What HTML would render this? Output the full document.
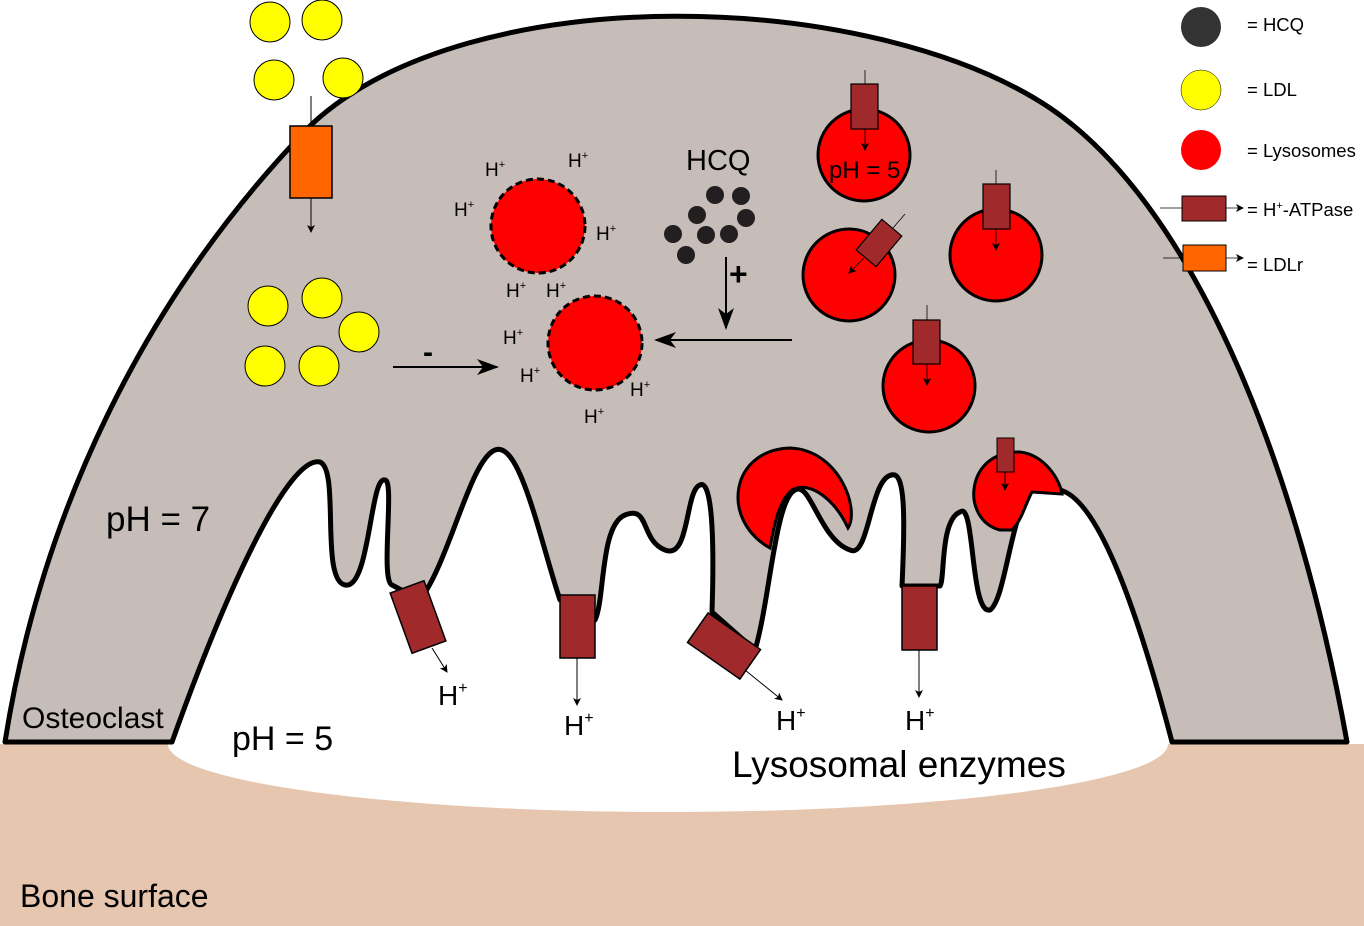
<!DOCTYPE html>
<html><head><meta charset="utf-8"><style>
html,body{margin:0;padding:0;background:#fff;}
svg{display:block;font-family:"Liberation Sans",sans-serif;}
</style></head><body>
<svg width="1364" height="926" viewBox="0 0 1364 926" xmlns="http://www.w3.org/2000/svg">
<defs>
<marker id="ah" markerWidth="8" markerHeight="8" refX="7" refY="4" orient="auto" markerUnits="userSpaceOnUse"><path d="M0,0 L8,4 L0,8 L2,4z" fill="#000"/></marker>
<marker id="ahb" markerWidth="22" markerHeight="16" refX="20" refY="8" orient="auto" markerUnits="userSpaceOnUse"><path d="M0,0 L22,8 L0,16 L6,8z" fill="#000"/></marker>
</defs>
<rect x="0" y="744" width="1364" height="182" fill="#e6c6ae"/>
<ellipse cx="668" cy="744" rx="500" ry="68" fill="#fff"/>
<path d="M5,742 C40,520 140,300 312,124 C470,-22 870,-12 1050,108 C1200,210 1300,480 1347,742 L1172,742
C1140,620 1100,500 1060,490 L1030,490 C1010,520 1005,600 990,610 C970,615 975,500 960,512 C940,520 945,580 940,586
L937,586 L902,586 C905,520 905,480 895,475 C870,470 870,560 850,550 C820,540 810,480 795,490 C775,500 770,600 755,650
L712,612 C715,520 710,480 700,485 C685,490 690,560 665,550 C640,540 650,505 625,515 C600,525 605,600 595,620 L560,600
C540,540 520,440 495,450 C470,460 450,560 420,600 L392,585 C380,580 395,480 385,480 C370,475 370,590 345,585 C320,580 340,470 320,462 C290,455 230,580 172,742 Z"
fill="#c7bdb8" stroke="#000" stroke-width="5" stroke-linejoin="round"/>
<path d="M770,548 C720,520 730,450 790,448 C840,450 860,510 848,528 C835,500 810,480 792,490 C780,500 775,520 770,548Z" fill="#f00" stroke="#000" stroke-width="3"/>
<path d="M1000,530 C960,520 965,450 1020,452 C1045,455 1060,480 1062,494 L1032,492 C1025,505 1022,520 1012,530Z" fill="#f00" stroke="#000" stroke-width="3"/>
<rect x="997" y="438" width="17" height="34" fill="#a0292b" stroke="#000" stroke-width="1"/>
<line x1="1005" y1="472" x2="1005" y2="490" stroke="#000" marker-end="url(#ah)"/>
<g fill="#a0292b" stroke="#000" stroke-width="1.5">
<rect x="-18" y="-32" width="36" height="64" transform="translate(418,617) rotate(-20)"/>
<rect x="560" y="595" width="35" height="63" />
<rect x="-18" y="-32" width="36" height="64" transform="translate(724,646) rotate(-55)"/>
<rect x="902" y="586" width="35" height="64" />
</g>
<g stroke="#000" stroke-width="1" marker-end="url(#ah)">
<line x1="432" y1="648" x2="447" y2="672"/>
<line x1="577" y1="658" x2="577" y2="705"/>
<line x1="745" y1="670" x2="782" y2="700"/>
<line x1="919" y1="650" x2="919" y2="697"/>
</g>
<g font-size="28" fill="#000">
<text x="438" y="705">H<tspan font-size="16" dy="-12">+</tspan></text>
<text x="564" y="735">H<tspan font-size="16" dy="-12">+</tspan></text>
<text x="776" y="730">H<tspan font-size="16" dy="-12">+</tspan></text>
<text x="905" y="730">H<tspan font-size="16" dy="-12">+</tspan></text>
</g>
<text x="106" y="531" font-size="35">pH = 7</text>
<text x="232" y="750" font-size="34">pH = 5</text>
<text x="22" y="728" font-size="30">Osteoclast</text>
<text x="732" y="777" font-size="37">Lysosomal enzymes</text>
<text x="20" y="907" font-size="32">Bone surface</text>
<g fill="#ff0" stroke="#000" stroke-width="1">
<circle cx="270" cy="22" r="20"/><circle cx="322" cy="20" r="20"/><circle cx="274" cy="80" r="20"/><circle cx="343" cy="78" r="20"/>
<circle cx="268" cy="306" r="20"/><circle cx="322" cy="298" r="20"/><circle cx="359" cy="332" r="20"/><circle cx="265" cy="366" r="20"/><circle cx="319" cy="366" r="20"/>
</g>
<line x1="311" y1="96" x2="311" y2="126" stroke="#000"/>
<rect x="290" y="126" width="42" height="72" fill="#f60" stroke="#000" stroke-width="1.5"/>
<line x1="311" y1="198" x2="311" y2="232" stroke="#000" marker-end="url(#ah)"/>
<line x1="393" y1="367" x2="497" y2="367" stroke="#000" stroke-width="2" marker-end="url(#ahb)"/>
<text x="423" y="362" font-size="30" font-weight="bold">-</text>
<circle cx="538" cy="226" r="47" fill="#f00" stroke="#000" stroke-width="3" stroke-dasharray="7,4"/>
<circle cx="595" cy="343" r="47" fill="#f00" stroke="#000" stroke-width="3" stroke-dasharray="7,4"/>
<g font-size="19">
<text x="485" y="176">H<tspan font-size="11" dy="-8">+</tspan></text>
<text x="568" y="167">H<tspan font-size="11" dy="-8">+</tspan></text>
<text x="454" y="216">H<tspan font-size="11" dy="-8">+</tspan></text>
<text x="596" y="240">H<tspan font-size="11" dy="-8">+</tspan></text>
<text x="506" y="297">H<tspan font-size="11" dy="-8">+</tspan></text>
<text x="546" y="297">H<tspan font-size="11" dy="-8">+</tspan></text>
<text x="503" y="344">H<tspan font-size="11" dy="-8">+</tspan></text>
<text x="520" y="382">H<tspan font-size="11" dy="-8">+</tspan></text>
<text x="630" y="396">H<tspan font-size="11" dy="-8">+</tspan></text>
<text x="584" y="423">H<tspan font-size="11" dy="-8">+</tspan></text>
</g>
<text x="686" y="170" font-size="29">HCQ</text>
<g fill="#231f20">
<circle cx="715" cy="195" r="9"/><circle cx="741" cy="196" r="9"/><circle cx="697" cy="215" r="9"/><circle cx="746" cy="218" r="9"/>
<circle cx="673" cy="234" r="9"/><circle cx="706" cy="235" r="9"/><circle cx="729" cy="234" r="9"/><circle cx="686" cy="255" r="9"/>
</g>
<line x1="726" y1="257" x2="726" y2="328" stroke="#000" stroke-width="2" marker-end="url(#ahb)"/>
<text x="729" y="285" font-size="32" font-weight="bold">+</text>
<line x1="792" y1="340" x2="656" y2="340" stroke="#000" stroke-width="2" marker-end="url(#ahb)"/>
<g fill="#f00" stroke="#000" stroke-width="3">
<circle cx="864" cy="155" r="46"/><circle cx="849" cy="275" r="46"/><circle cx="996" cy="255" r="46"/><circle cx="929" cy="386" r="46"/>
</g>
<text x="829" y="178" font-size="24">pH = 5</text>
<g fill="#a0292b" stroke="#000" stroke-width="1.2">
<rect x="851" y="84" width="27" height="45"/>
<rect x="-13" y="-20" width="26" height="40" transform="translate(879,243) rotate(40)"/>
<rect x="983" y="184" width="27" height="45"/>
<rect x="913" y="320" width="27" height="44"/>
</g>
<g stroke="#000" stroke-width="0.8">
<line x1="865" y1="70" x2="865" y2="84"/><line x1="996" y1="170" x2="996" y2="184"/><line x1="927" y1="305" x2="927" y2="320"/><line x1="893" y1="228" x2="905" y2="214"/>
<line x1="865" y1="129" x2="865" y2="150" marker-end="url(#ah)"/>
<line x1="996" y1="229" x2="996" y2="250" marker-end="url(#ah)"/>
<line x1="927" y1="364" x2="927" y2="385" marker-end="url(#ah)"/>
<line x1="864" y1="258" x2="849" y2="273" marker-end="url(#ah)"/>
</g>
<circle cx="1201" cy="27" r="20" fill="#333"/>
<circle cx="1201" cy="90" r="20" fill="#ff0" stroke="#000" stroke-width="0.5"/>
<circle cx="1201" cy="150" r="20" fill="#f00"/>
<line x1="1160" y1="208" x2="1182" y2="208" stroke="#000" stroke-width="0.8"/>
<rect x="1182" y="196" width="44" height="25" fill="#a0292b" stroke="#000"/>
<line x1="1226" y1="208" x2="1243" y2="208" stroke="#000" stroke-width="0.8" marker-end="url(#ah)"/>
<line x1="1163" y1="258" x2="1183" y2="258" stroke="#000" stroke-width="0.8"/>
<rect x="1183" y="245" width="43" height="26" fill="#f60" stroke="#000"/>
<line x1="1226" y1="258" x2="1243" y2="258" stroke="#000" stroke-width="0.8" marker-end="url(#ah)"/>
<g font-size="18.5">
<text x="1247" y="31">= HCQ</text>
<text x="1247" y="96">= LDL</text>
<text x="1247" y="157">= Lysosomes</text>
<text x="1247" y="216">= H<tspan font-size="11" dy="-7">+</tspan><tspan dy="7">-ATPase</tspan></text>
<text x="1247" y="271">= LDLr</text>
</g>
</svg>
</body></html>
